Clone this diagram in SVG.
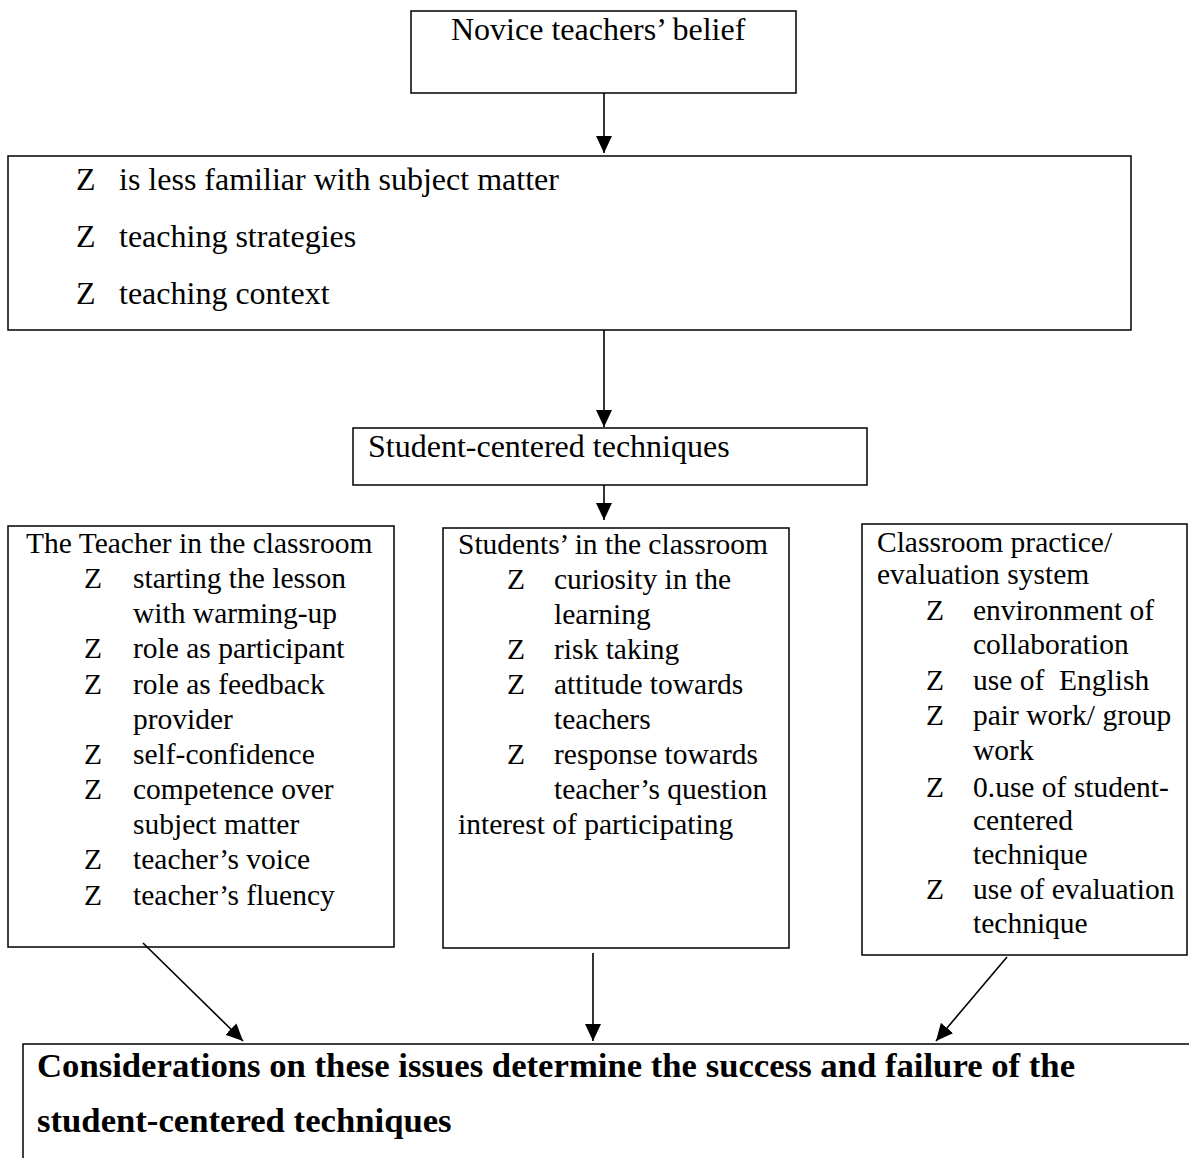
<svg xmlns="http://www.w3.org/2000/svg" width="1189" height="1158" viewBox="0 0 1189 1158">
<defs>
<style>
.box{fill:#fff;stroke:#000;stroke-width:1.5}
.t{font-family:"Liberation Serif","Times New Roman",serif;fill:#000}
.t32{font-size:32px}
.t29{font-size:29.5px}
.tb{font-size:34.7px;font-weight:bold}
.con{stroke:#000;stroke-width:1.6;fill:none}
</style>
<marker id="ah" markerUnits="userSpaceOnUse" markerWidth="18" markerHeight="16" refX="17" refY="8" orient="auto">
<path d="M0,0 L17,8 L0,16 Z" fill="#000"/>
</marker>
</defs>
<rect width="1189" height="1158" fill="#fff"/>

<g id="novice">
<rect class="box" x="411" y="11" width="385" height="82"/>
<text class="t t32" x="451" y="40">Novice teachers’ belief</text>
</g>

<g id="factors">
<rect class="box" x="8" y="156" width="1123" height="174"/>
<text class="t t32" x="76" y="190">Z</text><text class="t t32" x="119" y="190">is less familiar with subject matter</text>
<text class="t t32" x="76" y="247">Z</text><text class="t t32" x="119" y="247">teaching strategies</text>
<text class="t t32" x="76" y="304">Z</text><text class="t t32" x="119" y="304">teaching context</text>
</g>

<g id="sct">
<rect class="box" x="353" y="428" width="514" height="57"/>
<text class="t t32" x="368" y="457">Student-centered techniques</text>
</g>

<g id="teacher">
<rect class="box" x="8" y="526" width="386" height="421"/>
<g class="t t29">
<text x="26" y="553">The Teacher in the classroom</text>
<text x="84" y="588">Z</text><text x="133" y="588">starting the lesson</text>
<text x="133" y="623">with warming-up</text>
<text x="84" y="658">Z</text><text x="133" y="658">role as participant</text>
<text x="84" y="694">Z</text><text x="133" y="694">role as feedback</text>
<text x="133" y="729">provider</text>
<text x="84" y="764">Z</text><text x="133" y="764">self-confidence</text>
<text x="84" y="799">Z</text><text x="133" y="799">competence over</text>
<text x="133" y="834">subject matter</text>
<text x="84" y="869">Z</text><text x="133" y="869">teacher’s voice</text>
<text x="84" y="905">Z</text><text x="133" y="905">teacher’s fluency</text>
</g>
</g>

<g id="students">
<rect class="box" x="443" y="528" width="346" height="420"/>
<g class="t t29">
<text x="458" y="554">Students’ in the classroom</text>
<text x="507" y="589">Z</text><text x="554" y="589">curiosity in the</text>
<text x="554" y="624">learning</text>
<text x="507" y="659">Z</text><text x="554" y="659">risk taking</text>
<text x="507" y="694">Z</text><text x="554" y="694">attitude towards</text>
<text x="554" y="729">teachers</text>
<text x="507" y="764">Z</text><text x="554" y="764">response towards</text>
<text x="554" y="799">teacher’s question</text>
<text x="458" y="834">interest of participating</text>
</g>
</g>

<g id="practice">
<rect class="box" x="862" y="524" width="325" height="431"/>
<g class="t t29">
<text x="877" y="552">Classroom practice/</text>
<text x="877" y="584">evaluation system</text>
<text x="926" y="620">Z</text><text x="973" y="620">environment of</text>
<text x="973" y="654">collaboration</text>
<text x="926" y="690">Z</text><text x="973" y="690">use of&#160; English</text>
<text x="926" y="725">Z</text><text x="973" y="725">pair work/ group</text>
<text x="973" y="760">work</text>
<text x="926" y="797">Z</text><text x="973" y="797">0.use of student-</text>
<text x="973" y="830">centered</text>
<text x="973" y="864">technique</text>
<text x="926" y="899">Z</text><text x="973" y="899">use of evaluation</text>
<text x="973" y="933">technique</text>
</g>
</g>

<g id="conclusion">
<rect class="box" x="23" y="1044" width="1190" height="140"/>
<text class="t tb" x="37" y="1077">Considerations on these issues determine the success and failure of the</text>
<text class="t tb" x="37" y="1132">student-centered techniques</text>
</g>

<g id="connectors">
<line class="con" x1="604" y1="93" x2="604" y2="153" marker-end="url(#ah)"/>
<line class="con" x1="604" y1="330" x2="604" y2="427" marker-end="url(#ah)"/>
<line class="con" x1="604" y1="485" x2="604" y2="520" marker-end="url(#ah)"/>
<line class="con" x1="143" y1="943" x2="243" y2="1041" marker-end="url(#ah)"/>
<line class="con" x1="593" y1="953" x2="593" y2="1041" marker-end="url(#ah)"/>
<line class="con" x1="1007" y1="957" x2="936" y2="1041" marker-end="url(#ah)"/>
</g>
</svg>
